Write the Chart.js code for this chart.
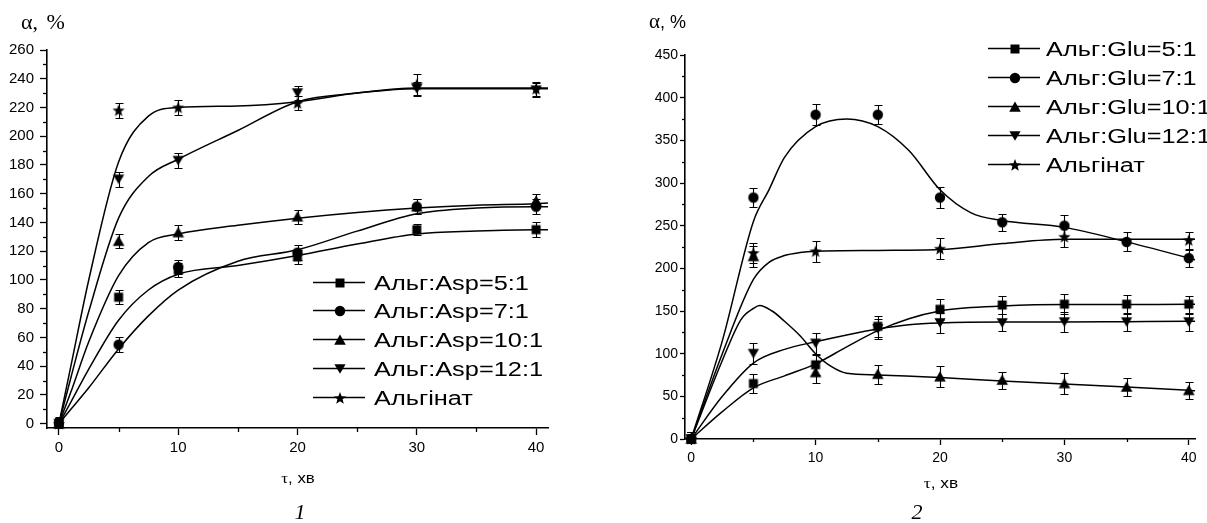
<!DOCTYPE html>
<html><head><meta charset="utf-8">
<script src="https://cdn.jsdelivr.net/npm/chart.js@4.4.1/dist/chart.umd.min.js"></script>
<style>
html,body{margin:0;padding:0;background:#fff;width:1207px;height:523px;overflow:hidden;position:relative;font-family:"Liberation Sans",Arial,sans-serif;}
canvas{position:absolute;top:0;}
#c1{left:0}
#c2{left:600px}
.t{position:absolute;white-space:nowrap;color:#000;}
</style></head><body>
<canvas id="c1" width="560" height="523"></canvas>
<canvas id="c2" width="607" height="523"></canvas>
<div class="t" style="left:21px;top:12px;font:22px/20px 'Liberation Serif';word-spacing:3px">α, %</div>
<div class="t" style="left:649px;top:11px;font:18px/20px 'Liberation Sans'"><span style="font-family:'Liberation Serif';font-size:21px">α</span>, %</div>
<div class="t" style="left:298px;top:470px;font:14px/16px 'Liberation Sans';transform:translateX(-50%) scaleX(1.2)"><span style="font-family:'Liberation Serif'">τ</span>, хв</div>
<div class="t" style="left:941px;top:474px;font:15px/17px 'Liberation Sans';transform:translateX(-50%) scaleX(1.15)"><span style="font-family:'Liberation Serif'">τ</span>, хв</div>
<div class="t" style="left:300px;top:501px;font:italic 22px/22px 'Liberation Serif';transform:translateX(-50%)">1</div>
<div class="t" style="left:917px;top:501px;font:italic 22px/22px 'Liberation Serif';transform:translateX(-50%)">2</div>
<script>
// ---------- Panel 1 data: Альг:Asp ----------
const tau1 = [0, 5, 10, 20, 30, 40];
const asp5  = [0, 88, 107, 116, 135, 135];
const asp7  = [0, 55, 109, 119, 151, 151];
const asp10 = [0, 127, 133, 144, 151, 155];
const asp12 = [0, 170, 183, 230, 233, 232];
const alg1  = [0, 218, 220, 223, 236, 233];
const asp5Err  = [4, 5, 5, 5, 4, 5];
const asp7Err  = [4, 5, 5, 5, 5, 5];
const asp10Err = [4, 5, 5, 5, 5, 5];
const asp12Err = [4, 5, 5, 5, 5, 5];
const alg1Err  = [5, 5, 5, 5, 7, 5];
// fitted curves
const fitTau1  = [0, 1, 2.5, 5, 7.5, 10, 15, 20, 25, 30, 35, 40, 41];
const fitAsp5  = [0, 15, 38, 72, 93, 104, 110, 117, 125, 132, 134, 135, 135];
const fitAsp7  = [0, 10, 25, 52, 75, 93, 113, 121, 134, 146, 150, 151, 151];
const fitAsp10 = [0, 22, 57, 103, 126, 132, 138, 143, 147, 150, 152, 153, 153.5];
const fitAsp12 = [0, 32, 78, 143, 172, 184, 204, 224, 230, 233, 233, 233, 233];
const fitAlg1  = [0, 40, 100, 182, 214, 220, 221, 224, 230, 233.5, 233.5, 233.5, 233.5];
const labels1 = ["Альг:Asp=5:1", "Альг:Asp=7:1", "Альг:Asp=10:1", "Альг:Asp=12:1", "Альгінат"];
const xMajor1 = [0, 10, 20, 30, 40];
const xMinor1 = [5, 15, 25, 35];
const yMajor1 = [0, 20, 40, 60, 80, 100, 120, 140, 160, 180, 200, 220, 240, 260];
const yMinor1 = [10, 30, 50, 70, 90, 110, 130, 150, 170, 190, 210, 230, 250];

// ---------- Panel 2 data: Альг:Glu ----------
const tau2 = [0, 5, 10, 15, 20, 25, 30, 35, 40];
const glu5  = [0, 65, 87, 132, 152, 157, 158, 158, 158];
const glu7  = [0, 283, 380, 380, 283, 254, 250, 231, 212];
const glu10 = [0, 214, 78, 76, 73, 69, 65, 61, 57];
const glu12 = [0, 100, 112, 129, 136, 136, 137, 137, 137];
const tau2Alg = [0, 5, 10, 20, 30, 40];
const alg2  = [0, 218, 220, 223, 237, 233];
const glu5Err  = [8, 11, 12, 12, 12, 10, 12, 11, 10];
const glu7Err  = [8, 11, 12, 11, 12, 10, 12, 11, 10];
const glu10Err = [8, 12, 12, 11, 12, 10, 12, 11, 10];
const glu12Err = [8, 12, 12, 12, 12, 10, 12, 11, 10];
const alg2Err  = [8, 12, 12, 12, 12, 10];
// fitted curves
const fitGlu7X  = [0, 2.5, 5, 6.25, 7.5, 10, 12.5, 15, 17.5, 20, 22.5, 25, 30, 35, 40, 40.5];
const fitGlu7Y  = [0, 115, 255, 292, 330, 366, 375, 366, 338, 292, 265, 256, 248, 231, 212, 210];
const fitAlg2X  = [0, 2.5, 5, 6.25, 7.5, 8.75, 10, 15, 20, 25, 30, 35, 40, 40.5];
const fitAlg2Y  = [0, 100, 187, 207, 215, 218.5, 220, 221, 222, 229, 234, 234, 234, 234];
const fitGlu10X = [0, 2.5, 4, 5, 5.5, 6.5, 7.5, 8.75, 10, 11.25, 12.5, 15, 20, 25, 30, 35, 40, 40.5];
const fitGlu10Y = [0, 92, 140, 153, 156.5, 150, 138, 121, 100, 85, 77, 75, 72, 68, 64.5, 61, 57, 56.5];
const fitGlu12X = [0, 2.5, 5, 7.5, 10, 12.5, 15, 17.5, 20, 25, 30, 35, 40, 40.5];
const fitGlu12Y = [0, 50, 89, 105, 114, 122, 129, 134, 136, 137, 137, 137.5, 138, 138];
const fitGlu5X  = [0, 2.5, 5, 7.5, 10, 12.5, 15, 17.5, 20, 22.5, 25, 30, 35, 40, 40.5];
const fitGlu5Y  = [0, 32, 60, 74, 88, 108, 127, 141, 150, 154, 156, 157.5, 157.5, 158, 158];
const labels2 = ["Альг:Glu=5:1", "Альг:Glu=7:1", "Альг:Glu=10:1", "Альг:Glu=12:1", "Альгінат"];
const xMajor2 = [0, 10, 20, 30, 40];
const xMinor2 = [5, 15, 25, 35];
const yMajor2 = [0, 50, 100, 150, 200, 250, 300, 350, 400, 450];
const yMinor2 = [25, 75, 125, 175, 225, 275, 325, 375, 425];

// ---------- helpers ----------
function pts(xs, ys) { return xs.map((x, i) => ({ x: x, y: ys[i] })); }

function marker(type) {
  const c = document.createElement('canvas');
  c.width = 14; c.height = 14;
  const g = c.getContext('2d');
  g.fillStyle = '#000';
  const m = 7;
  g.beginPath();
  if (type === 'square') { g.rect(2.5, 2.5, 9, 9); }
  else if (type === 'circle') { g.arc(m, m, 5.2, 0, Math.PI * 2); }
  else if (type === 'up') { g.moveTo(m, 1.5); g.lineTo(12.8, 11.8); g.lineTo(1.2, 11.8); g.closePath(); }
  else if (type === 'down') { g.moveTo(1.4, 2.3); g.lineTo(12.6, 2.3); g.lineTo(m, 11.8); g.closePath(); }
  else if (type === 'star') {
    for (let k = 0; k < 10; k++) {
      const r = k % 2 ? 2.7 : 6.4;
      const a = -Math.PI / 2 + k * Math.PI / 5;
      const px = m + r * Math.cos(a), py = m + 0.5 + r * Math.sin(a);
      k ? g.lineTo(px, py) : g.moveTo(px, py);
    }
    g.closePath();
  }
  g.fill();
  return c;
}
const MK = ['square', 'circle', 'up', 'down', 'star'].map(marker);

function curveDs(label, xs, ys) {
  return { label: label, data: pts(xs, ys), showLine: true, pointRadius: 0, pointHoverRadius: 0,
    borderColor: '#000', borderWidth: 1.5, cubicInterpolationMode: 'monotone', fill: false, clip: 2 };
}
function markDs(label, xs, ys, errs, mk) {
  return { label: label, data: pts(xs, ys), errors: errs, showLine: false, pointStyle: mk,
    pointRadius: 6, pointHoverRadius: 6, borderColor: '#000', backgroundColor: '#000', clip: false };
}

const errPlugin = {
  id: 'errbars',
  beforeDatasetsDraw(chart) {
    const ctx = chart.ctx, a = chart.chartArea, x = chart.scales.x, y = chart.scales.y;
    ctx.save();
    ctx.beginPath(); ctx.rect(a.left, a.top - 30, a.right - a.left + 10, a.bottom - a.top + 30); ctx.clip();
    ctx.strokeStyle = '#000'; ctx.lineWidth = 1.1;
    chart.data.datasets.forEach(ds => {
      if (!ds.errors) return;
      ds.data.forEach((p, i) => {
        const e = ds.errors[i];
        const px = Math.round(x.getPixelForValue(p.x)) + 0.5;
        const y1 = Math.round(y.getPixelForValue(p.y + e)) + 0.5;
        const y2 = Math.round(y.getPixelForValue(p.y - e)) + 0.5;
        ctx.beginPath();
        ctx.moveTo(px, y1); ctx.lineTo(px, y2);
        ctx.moveTo(px - 4, y1); ctx.lineTo(px + 4, y1);
        ctx.moveTo(px - 4, y2); ctx.lineTo(px + 4, y2);
        ctx.stroke();
      });
    });
    ctx.restore();
  }
};

function makeDeco(cfg) {
  return {
    id: 'deco',
    afterDraw(chart) {
      const ctx = chart.ctx, a = chart.chartArea, x = chart.scales.x, y = chart.scales.y;
      ctx.save();
      ctx.strokeStyle = '#000'; ctx.fillStyle = '#000'; ctx.lineWidth = 1.3;
      cfg.minorX.forEach(v => {
        const px = Math.round(x.getPixelForValue(v)) + 0.5;
        ctx.beginPath(); ctx.moveTo(px, a.bottom); ctx.lineTo(px, a.bottom + cfg.minorLen); ctx.stroke();
      });
      cfg.minorY.forEach(v => {
        const py = Math.round(y.getPixelForValue(v)) + 0.5;
        ctx.beginPath(); ctx.moveTo(a.left, py); ctx.lineTo(a.left - cfg.minorLen, py); ctx.stroke();
      });
      // legend
      const L = cfg.legend;
      chart.data.datasets.filter(d => d.errors).forEach((ds, i) => {
        const yy = Math.round(L.y + i * L.dy) + 0.5;
        ctx.lineWidth = 1.5;
        ctx.beginPath(); ctx.moveTo(L.x1, yy); ctx.lineTo(L.x2, yy); ctx.stroke();
        const im = ds.pointStyle;
        ctx.drawImage(im, Math.round(L.mx - im.width / 2), Math.round(yy - im.height / 2));
        ctx.save();
        ctx.translate(L.tx, yy + 7);
        ctx.scale(L.sx, 1);
        ctx.font = L.font;
        ctx.textBaseline = 'alphabetic';
        ctx.fillText(ds.label, 0, 0);
        ctx.restore();
      });
      ctx.restore();
    }
  };
}

function scales(o) {
  return {
    x: {
      type: 'linear', min: o.xmin, max: o.xmax,
      afterBuildTicks: s => { s.ticks = o.xMajor.map(v => ({ value: v })); },
      afterFit: s => { s.height = 40; },
      grid: { drawOnChartArea: false, drawTicks: true, tickLength: o.xTick, tickColor: '#000', tickWidth: 1.3 },
      border: { display: true, color: '#000', width: 1.6 },
      ticks: { color: '#000', font: { family: 'Liberation Sans', size: o.fs }, padding: o.xPad, maxRotation: 0, autoSkip: false }
    },
    y: {
      type: 'linear', min: o.ymin, max: o.ymax,
      afterBuildTicks: s => { s.ticks = o.yMajor.map(v => ({ value: v })); },
      afterFit: s => { s.width = o.yw; },
      grid: { drawOnChartArea: false, drawTicks: true, tickLength: o.yTick, tickColor: '#000', tickWidth: 1.3 },
      border: { display: true, color: '#000', width: 1.6 },
      ticks: { color: '#000', font: { family: 'Liberation Sans', size: o.fs }, padding: o.yPad, autoSkip: false }
    }
  };
}

const common = {
  responsive: false, animation: false, devicePixelRatio: 1,
  plugins: { legend: { display: false }, tooltip: { enabled: false } },
  events: []
};

// ---------- Chart 1 ----------
new Chart(document.getElementById('c1'), {
  type: 'scatter',
  data: {
    datasets: [
      curveDs('fit ' + labels1[0], fitTau1, fitAsp5),
      curveDs('fit ' + labels1[1], fitTau1, fitAsp7),
      curveDs('fit ' + labels1[2], fitTau1, fitAsp10),
      curveDs('fit ' + labels1[3], fitTau1, fitAsp12),
      curveDs('fit ' + labels1[4], fitTau1, fitAlg1),
      markDs(labels1[0], tau1, asp5, asp5Err, MK[0]),
      markDs(labels1[1], tau1, asp7, asp7Err, MK[1]),
      markDs(labels1[2], tau1, asp10, asp10Err, MK[2]),
      markDs(labels1[3], tau1, asp12, asp12Err, MK[3]),
      markDs(labels1[4], tau1, alg1, alg1Err, MK[4])
    ]
  },
  options: Object.assign({}, common, {
    layout: { padding: { left: 0, right: 12, top: 50, bottom: 55 } },
    scales: scales({ xmin: -1, xmax: 41, ymin: -3, ymax: 260, xMajor: xMajor1, yMajor: yMajor1,
      xTick: 7, yTick: 7, xPad: 4, yPad: 6, fs: 15, yw: 47 })
  }),
  plugins: [errPlugin, makeDeco({ minorX: xMinor1, minorY: yMinor1, minorLen: 4,
    legend: { x1: 313, x2: 365, mx: 339.5, tx: 374, y: 281.7, dy: 28.75, sx: 1.3, font: '19.5px "Liberation Sans"' } })]
});

// ---------- Chart 2 ----------
new Chart(document.getElementById('c2'), {
  type: 'scatter',
  data: {
    datasets: [
      curveDs('fit ' + labels2[0], fitGlu5X, fitGlu5Y),
      curveDs('fit ' + labels2[1], fitGlu7X, fitGlu7Y),
      curveDs('fit ' + labels2[2], fitGlu10X, fitGlu10Y),
      curveDs('fit ' + labels2[3], fitGlu12X, fitGlu12Y),
      curveDs('fit ' + labels2[4], fitAlg2X, fitAlg2Y),
      markDs(labels2[0], tau2, glu5, glu5Err, MK[0]),
      markDs(labels2[1], tau2, glu7, glu7Err, MK[1]),
      markDs(labels2[2], tau2, glu10, glu10Err, MK[2]),
      markDs(labels2[3], tau2, glu12, glu12Err, MK[3]),
      markDs(labels2[4], tau2Alg, alg2, alg2Err, MK[4])
    ]
  },
  options: Object.assign({}, common, {
    layout: { padding: { left: 0, right: 12, top: 55, bottom: 44 } },
    scales: scales({ xmin: -0.5, xmax: 40.5, ymin: 0, ymax: 450, xMajor: xMajor2, yMajor: yMajor2,
      xTick: 6, yTick: 5, xPad: 5, yPad: 2, fs: 14, yw: 85 })
  }),
  plugins: [errPlugin, makeDeco({ minorX: xMinor2, minorY: yMinor2, minorLen: 3,
    legend: { x1: 388, x2: 440, mx: 415, tx: 446, y: 48.3, dy: 29, sx: 1.3, font: '19.5px "Liberation Sans"' } })]
});
</script>
</body></html>
